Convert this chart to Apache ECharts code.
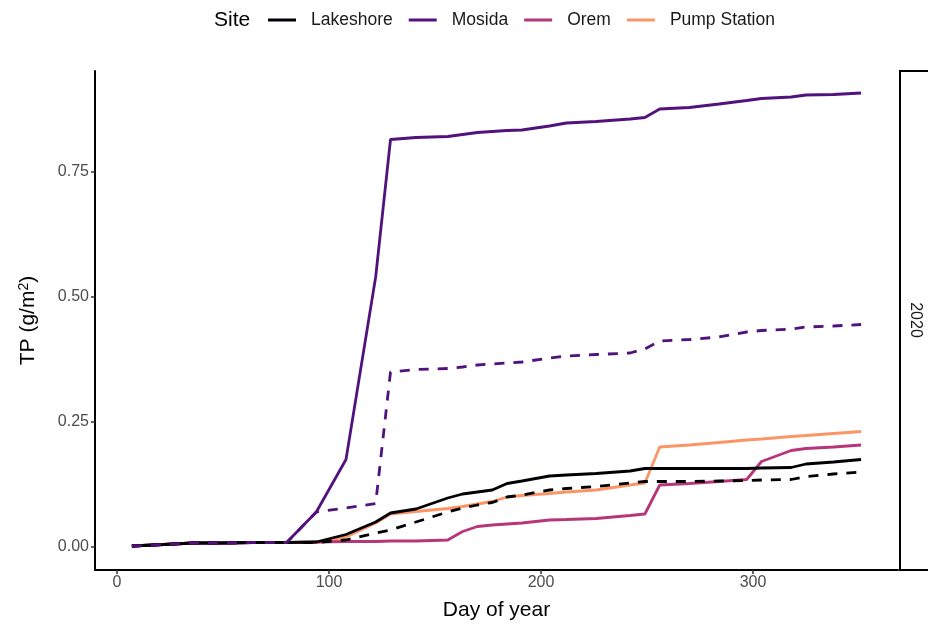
<!DOCTYPE html>
<html>
<head>
<meta charset="utf-8">
<script src="https://cdn.jsdelivr.net/npm/echarts@6/dist/echarts.min.js"></script>
<style>
  html, body { margin: 0; padding: 0; background: #fff; }
  #chart { width: 928px; height: 626px; }
</style>
</head>
<body>
<div id="chart"></div>
<script>
// Sampling days (day of year) shared by all sites
const days = [7, 22, 36, 50, 64, 80, 94, 108, 122, 129, 141, 156, 163, 170, 177, 184, 191, 204, 212, 226, 242, 249, 256, 270, 284, 297, 304, 318, 325, 338, 351];

// Cumulative TP (g/m2) per site, solid lines
const lakeshore = [0.002, 0.005, 0.008, 0.008, 0.009, 0.009, 0.010, 0.025, 0.050, 0.068, 0.076, 0.098, 0.106, 0.110, 0.114, 0.127, 0.132, 0.142, 0.144, 0.147, 0.152, 0.157, 0.157, 0.157, 0.157, 0.157, 0.158, 0.159, 0.166, 0.170, 0.175];
const mosida    = [0.002, 0.005, 0.008, 0.008, 0.009, 0.009, 0.070, 0.175, 0.540, 0.815, 0.819, 0.821, 0.825, 0.829, 0.831, 0.833, 0.834, 0.842, 0.848, 0.851, 0.856, 0.859, 0.876, 0.879, 0.886, 0.893, 0.897, 0.900, 0.904, 0.905, 0.908];
const orem      = [0.002, 0.005, 0.008, 0.008, 0.009, 0.009, 0.010, 0.011, 0.011, 0.012, 0.012, 0.014, 0.031, 0.041, 0.044, 0.046, 0.048, 0.054, 0.055, 0.057, 0.063, 0.066, 0.124, 0.127, 0.131, 0.135, 0.171, 0.193, 0.197, 0.200, 0.204];
const pumpStation = [0.002, 0.005, 0.008, 0.008, 0.009, 0.009, 0.009, 0.020, 0.048, 0.066, 0.071, 0.077, 0.081, 0.086, 0.091, 0.100, 0.103, 0.107, 0.110, 0.114, 0.124, 0.128, 0.200, 0.204, 0.209, 0.214, 0.216, 0.221, 0.223, 0.227, 0.231];

// Second estimate per site, dashed lines
const lakeshoreDashed = [0.002, 0.005, 0.008, 0.008, 0.009, 0.009, 0.009, 0.014, 0.028, 0.034, 0.050, 0.070, 0.078, 0.084, 0.089, 0.100, 0.104, 0.114, 0.117, 0.121, 0.128, 0.131, 0.131, 0.131, 0.132, 0.133, 0.134, 0.135, 0.141, 0.146, 0.150];
const mosidaDashed    = [0.002, 0.005, 0.008, 0.008, 0.009, 0.009, 0.070, 0.078, 0.087, 0.350, 0.355, 0.357, 0.360, 0.364, 0.366, 0.368, 0.370, 0.378, 0.382, 0.385, 0.388, 0.396, 0.412, 0.415, 0.420, 0.430, 0.433, 0.436, 0.440, 0.442, 0.445];

const sites = ['Lakeshore', 'Mosida', 'Orem', 'Pump Station'];
const colors = { 'Lakeshore': '#000004', 'Mosida': '#51127C', 'Orem': '#B63679', 'Pump Station': '#FC9565' };

const xTicks = [0, 100, 200, 300];
const yTicks = [0, 0.25, 0.5, 0.75];
const facetLabel = '2020';

const FONT = 'Liberation Sans, Arial, sans-serif';

function pairs(vals) { return days.map((d, i) => [d, vals[i]]); }

function lineSeries(name, vals, dashed, z) {
  return {
    name: name,
    type: 'line',
    data: pairs(vals),
    showSymbol: false,
    symbol: 'none',
    z: z,
    itemStyle: { color: colors[name] },
    lineStyle: { color: colors[name], width: 2.8, type: dashed ? [10, 9] : 'solid', cap: 'butt' },
    emphasis: { disabled: true },
    animation: false
  };
}

const chart = echarts.init(document.getElementById('chart'), null, { renderer: 'canvas' });

chart.setOption({
  backgroundColor: '#ffffff',
  animation: false,
  textStyle: { fontFamily: FONT },
  grid: { left: 95, right: 30, top: 71, bottom: 56, containLabel: false, outerBoundsMode: 'none' },
  legend: {
    data: sites,
    left: 263,
    top: 6,
    icon: 'rect',
    itemWidth: 28,
    itemHeight: 3,
    itemGap: 16,
    textStyle: { fontSize: 17.5, color: '#1a1a1a', padding: [0, 0, 0, 10] },
    selectedMode: false
  },
  xAxis: {
    type: 'value',
    min: -10.4,
    max: 368.4,
    name: 'Day of year',
    nameLocation: 'middle',
    nameGap: 30,
    nameTextStyle: { fontSize: 21, color: '#000' },
    axisLine: { show: true, onZero: false, lineStyle: { color: '#000', width: 2 } },
    axisTick: { show: true, customValues: xTicks, length: 4, lineStyle: { color: '#333', width: 1.5 } },
    axisLabel: { customValues: xTicks, fontSize: 16, color: '#4D4D4D', margin: 5 },
    splitLine: { show: false }
  },
  yAxis: {
    type: 'value',
    min: -0.046,
    max: 0.952,
    name: 'TP (g/m{sup|2})',
    nameLocation: 'middle',
    nameGap: 55,
    nameRotate: 90,
    nameTextStyle: {
      fontSize: 21, color: '#000',
      rich: { sup: { fontSize: 14, verticalAlign: 'top', padding: [0, 0, 9, 0], color: '#000' } }
    },
    axisLine: { show: true, onZero: false, lineStyle: { color: '#000', width: 2 } },
    axisTick: { show: true, customValues: yTicks, length: 4, lineStyle: { color: '#333', width: 1.5 } },
    axisLabel: { customValues: yTicks, fontSize: 16, color: '#4D4D4D', margin: 6,
      formatter: v => v.toFixed(2) },
    splitLine: { show: false }
  },
  graphic: [
    { type: 'text', left: 214, top: 10, style: { text: 'Site', fontSize: 21, fill: '#000', fontFamily: FONT } },
    { type: 'rect', shape: { x: 900, y: 71, width: 40, height: 499 }, style: { fill: '#ffffff', stroke: '#000', lineWidth: 2 } },
    { type: 'text', x: 915, y: 320, rotation: -Math.PI / 2,
      style: { text: facetLabel, fontSize: 16, fill: '#1a1a1a', align: 'center', verticalAlign: 'middle', fontFamily: FONT } }
  ],
  series: [
    lineSeries('Lakeshore', lakeshore, false, 5),
    lineSeries('Mosida', mosida, false, 4),
    lineSeries('Orem', orem, false, 3),
    lineSeries('Pump Station', pumpStation, false, 2),
    lineSeries('Lakeshore', lakeshoreDashed, true, 6),
    lineSeries('Mosida', mosidaDashed, true, 6)
  ]
});
</script>
</body>
</html>
